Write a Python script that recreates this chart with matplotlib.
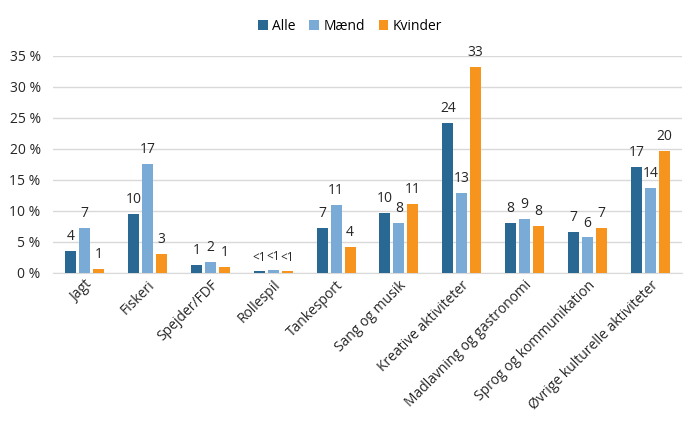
import numpy as np
import matplotlib
matplotlib.use("Agg")
import matplotlib.pyplot as plt

plt.rcParams["font.family"] = ["Open Sans", "DejaVu Sans"]

categories = ["Jagt", "Fiskeri", "Spejder/FDF", "Rollespil", "Tankesport",
              "Sang og musik", "Kreative aktiviteter", "Madlavning og gastronomi",
              "Sprog og kommunikation", "Øvrige kulturelle aktiviteter"]
alle = [3.6, 9.5, 1.2, 0.3, 7.2, 9.7, 24.1, 8.1, 6.6, 17.0]
maend = [7.3, 17.5, 1.8, 0.4, 11.0, 8.0, 12.9, 8.7, 5.7, 13.7]
kvinder = [0.6, 3.1, 0.9, 0.25, 4.1, 11.1, 33.2, 7.6, 7.2, 19.6]
labels_alle = ["4", "10", "1", "<1", "7", "10", "24", "8", "7", "17"]
labels_maend = ["7", "17", "2", "<1", "11", "8", "13", "9", "6", "14"]
labels_kvinder = ["1", "3", "1", "<1", "4", "11", "33", "8", "7", "20"]

series = [("Alle", alle, labels_alle, "#2a6894"),
          ("Mænd", maend, labels_maend, "#7aaad6"),
          ("Kvinder", kvinder, labels_kvinder, "#f7941e")]

fig = plt.figure(figsize=(7, 4.23), dpi=100)
ax = fig.add_axes([0.076, 0.355, 0.898, 0.513])

x = np.arange(len(categories))
width = 0.175
step = 0.222
for i, (name, vals, labs, color) in enumerate(series):
    pos = x + (i - 1) * step
    bars = ax.bar(pos, vals, width, color=color, label=name, zorder=3)
    texts = ax.bar_label(bars, labels=labs, padding=5, fontsize=10, color="#262626")
    for t in texts:
        if t.get_text() == "<1":
            t.set_fontsize(8.5)

ax.set_xlim(-0.5, len(categories) - 0.5)
ax.set_ylim(0, 35)
ax.set_yticks(range(0, 36, 5))
ax.set_yticklabels([f"{v} %" for v in range(0, 36, 5)])
ax.grid(axis="y", color="#d9d9d9", linewidth=1, zorder=0)
for s in ["top", "right", "left"]:
    ax.spines[s].set_visible(False)
ax.spines["bottom"].set_color("#d9d9d9")
ax.tick_params(axis="both", length=0, labelsize=10, colors="#262626")
ax.tick_params(axis="y", pad=9)
ax.set_xticks(x)
ax.set_xticklabels(categories, rotation=45, ha="right", rotation_mode="anchor")

fig.legend(loc="upper center", bbox_to_anchor=(0.5, 0.985), ncol=3, frameon=False,
           fontsize=10, handlelength=0.7, handleheight=0.7, handletextpad=0.3,
           columnspacing=1.0)

fig.savefig("out.png", dpi=100)
